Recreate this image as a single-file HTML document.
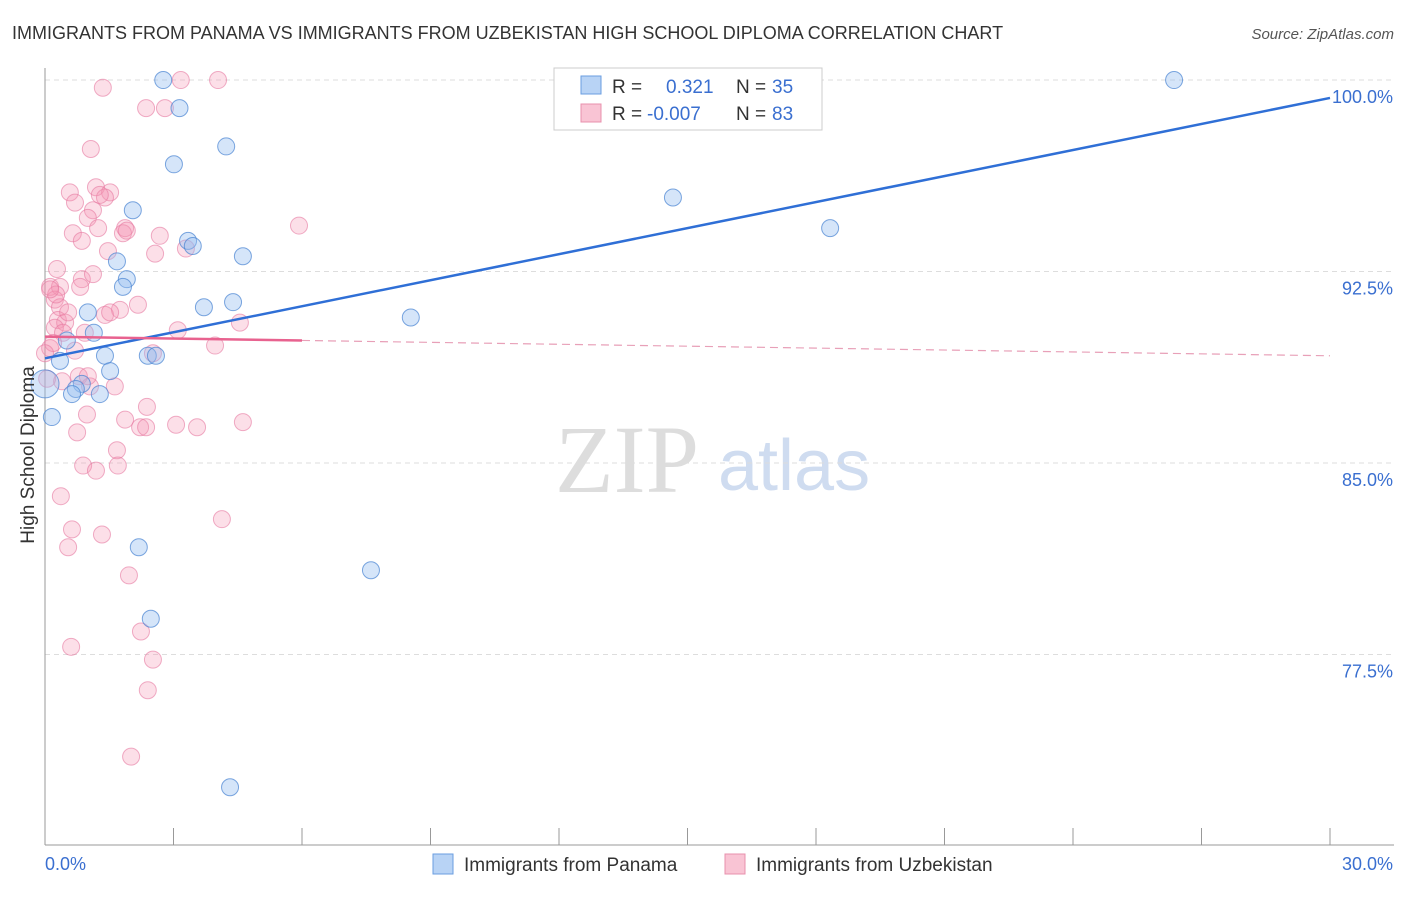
<!DOCTYPE html>
<html><head><meta charset="utf-8"><style>
body{margin:0;background:#fff;font-family:"Liberation Sans",sans-serif}
</style></head><body>
<svg id="chart" width="1406" height="892" xmlns="http://www.w3.org/2000/svg" font-family="Liberation Sans, sans-serif">
<text x="12" y="39" font-size="18" fill="#333">IMMIGRANTS FROM PANAMA VS IMMIGRANTS FROM UZBEKISTAN HIGH SCHOOL DIPLOMA CORRELATION CHART</text>
<text x="1394" y="39" font-size="15" fill="#555" text-anchor="end" font-style="italic">Source: ZipAtlas.com</text>
<g><text x="555" y="492" font-size="96" fill="#ddd" font-family="Liberation Serif, serif">ZIP</text><text x="718" y="490" font-size="72" fill="#cfdcf0">atlas</text></g>
<g id="grid"></g><g id="axes"></g><g id="pts"></g><g id="lines"></g>
<g>
<rect x="554" y="68" width="268" height="62" fill="#fff" stroke="#ccc"/>
<rect x="581" y="76" width="20" height="18" fill="#b8d3f5" stroke="#6a9ee0"/>
<rect x="581" y="104" width="20" height="18" fill="#f9c4d4" stroke="#e890ad"/>
<text x="612" y="93" font-size="19" fill="#333">R =</text><text x="666" y="93" font-size="19" fill="#3a6fd0">0.321</text>
<text x="736" y="93" font-size="19" fill="#333">N =</text><text x="772" y="93" font-size="19" fill="#3a6fd0">35</text>
<text x="612" y="120" font-size="19" fill="#333">R =</text><text x="647" y="120" font-size="19" fill="#3a6fd0">-0.007</text>
<text x="736" y="120" font-size="19" fill="#333">N =</text><text x="772" y="120" font-size="19" fill="#3a6fd0">83</text>
</g>
<g>
<rect x="433" y="854" width="20" height="20" fill="#b8d3f5" stroke="#6a9ee0"/>
<text x="464" y="871" font-size="19" fill="#333">Immigrants from Panama</text>
<rect x="725" y="854" width="20" height="20" fill="#f9c4d4" stroke="#e890ad"/>
<text x="756" y="871" font-size="19" fill="#333">Immigrants from Uzbekistan</text>
</g>
<text transform="translate(34,455) rotate(-90)" font-size="19" fill="#333" text-anchor="middle">High School Diploma</text>
</svg>
<script>
const yTicks=[100,92.5,85,77.5];
const yTickLabels=["100.0%","92.5%","85.0%","77.5%"];
const panamaX=[2.76,3.14,4.23,3.01,2.05,3.34,3.45,4.62,1.68,1.91,1.82,3.71,4.39,1.0,1.14,0.51,0.35,1.4,2.4,2.59,1.52,0.86,0.72,0.63,1.28,0,0.16,2.19,2.47,4.32,7.61,8.54,14.66,18.33,26.36];
const panamaY=[100,98.9,97.4,96.7,94.9,93.7,93.5,93.1,92.9,92.2,91.9,91.1,91.3,90.9,90.1,89.8,89.0,89.2,89.2,89.2,88.6,88.1,87.9,87.7,87.7,88.1,86.8,81.7,78.9,72.3,80.8,90.7,95.4,94.2,100];
const uzbekX=[1.35,3.17,4.04,2.36,2.8,1.07,1.19,0.58,1.52,1.4,0.7,1.12,1.0,1.87,0.65,1.24,1.82,2.68,0.86,1.47,2.57,3.29,5.93,0.28,0.86,0.12,0.35,0.82,0.23,0.35,1.75,2.17,1.4,1.52,0.3,0.47,0.23,0.42,0.93,3.1,4.55,0.12,0.7,3.97,2.52,0.79,1.05,1.63,0.05,2.38,1.87,2.22,2.36,3.06,3.55,4.62,0.98,0.75,1.68,0.89,1.19,1.7,0.37,0.63,1.33,0.54,4.13,1.96,2.24,2.52,0.61,2.4,2.01,0.26,1.28,1.12,0.19,0,0.12,1.0,0.4,1.91,0.54];
const uzbekY=[99.7,100,100,98.9,98.9,97.3,95.8,95.6,95.6,95.4,95.2,94.9,94.6,94.2,94.0,94.2,94.0,93.9,93.7,93.3,93.2,93.4,94.3,92.6,92.2,91.9,91.9,91.9,91.4,91.1,91.0,91.2,90.8,90.9,90.6,90.5,90.3,90.1,90.1,90.2,90.5,89.5,89.4,89.6,89.3,88.4,88.0,88.0,88.3,87.2,86.7,86.4,86.4,86.5,86.4,86.6,86.9,86.2,85.5,84.9,84.7,84.9,83.7,82.4,82.2,81.7,82.8,80.6,78.4,77.3,77.8,76.1,73.5,91.6,95.5,92.4,89.7,89.3,91.8,88.4,88.2,94.1,90.9];
const panamaTrend=[89.1,99.3];
const uzbekTrend=[89.95,89.2];
const NS="http://www.w3.org/2000/svg";
const X0=45,X1=1330;
const xs=v=>X0+v/30*(X1-X0);
const ys=v=>463-(v-85)*25.53;
function mk(tag,attrs,parent){const e=document.createElementNS(NS,tag);for(const k in attrs)e.setAttribute(k,attrs[k]);document.getElementById(parent).appendChild(e);return e;}
yTicks.forEach((t,i)=>{
 const g=mk('line',{x1:X0,x2:1394,y1:ys(t),y2:ys(t),stroke:'#ddd','stroke-dasharray':'5,4'},'grid');
 
 
 const tx=mk('text',{x:1393,y:ys(t)+23,'font-size':18,fill:'#3a6fd0','text-anchor':'end'},'grid');
 tx.textContent=yTickLabels[i];
 
 
});
const ax=mk('line',{x1:X0,x2:X0,y1:68,y2:845,stroke:'#999'},'axes');


const bx=mk('line',{x1:X0,x2:1394,y1:845,y2:845,stroke:'#999'},'axes');


for(let i=0;i<=10;i++){const t=mk('line',{x1:xs(i*3),x2:xs(i*3),y1:828,y2:845,stroke:'#999'},'axes');
 
 }
[["0.0%",45,'start'],["30.0%",1393,'end']].forEach(a=>{const t=mk('text',{x:a[1],y:870,'font-size':18,fill:'#3a6fd0','text-anchor':a[2]},'axes');t.textContent=a[0];
 
 });
uzbekX.forEach((v,i)=>{const c=mk('circle',{cx:xs(v),cy:ys(uzbekY[i]),r:8.5,fill:'rgba(245,150,180,0.3)',stroke:'rgba(230,120,160,0.6)'},'pts');
 
 });
panamaX.forEach((v,i)=>{const c=mk('circle',{cx:xs(v),cy:ys(panamaY[i]),r:(v===0?14:8.5),fill:'rgba(150,190,240,0.4)',stroke:'rgba(70,130,210,0.7)'},'pts');
 
 });
const bl=mk('line',{x1:xs(0),y1:ys(panamaTrend[0]),x2:xs(30),y2:ys(panamaTrend[1]),stroke:'#2f6fd6','stroke-width':2.5},'lines');


const f=x=>uzbekTrend[0]+(uzbekTrend[1]-uzbekTrend[0])*x/30;
const pl=mk('line',{x1:xs(0),y1:ys(f(0)),x2:xs(6),y2:ys(f(6)),stroke:'#e8628f','stroke-width':2.5},'lines');


const pd=mk('line',{x1:xs(6),y1:ys(f(6)),x2:xs(30),y2:ys(f(30)),stroke:'#e8a0b8','stroke-width':1.2,'stroke-dasharray':'8,5'},'lines');


</script>
</body></html>
